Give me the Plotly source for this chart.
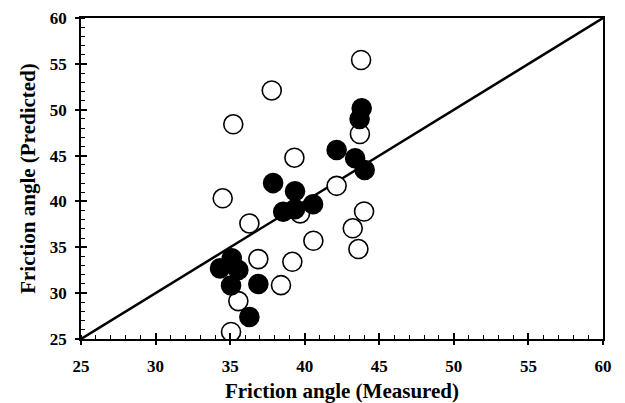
import plotly.graph_objects as go

# Friction angle: measured vs predicted (degrees)
open_measured = [43.78, 37.79, 35.21, 43.70, 39.31, 42.14, 34.50, 36.29, 39.69,
                 43.98, 43.22, 43.60, 40.58, 36.89, 39.17, 38.41, 35.55, 35.06]
open_predicted = [55.42, 52.10, 48.41, 47.35, 44.77, 41.70, 40.34, 37.60, 38.70,
                  38.90, 37.07, 34.81, 35.71, 33.71, 33.42, 30.87, 29.13, 25.77]

filled_measured = [43.82, 43.68, 42.14, 43.38, 44.02, 37.88, 39.35, 40.56,
                   39.35, 38.56, 35.11, 34.32, 35.55, 35.06, 36.89, 36.29]
filled_predicted = [50.15, 48.99, 45.61, 44.70, 43.42, 42.00, 41.10, 39.70,
                    39.16, 38.88, 33.80, 32.70, 32.52, 30.84, 31.00, 27.40]

line_x = [25, 60]
line_y = [25, 60]

axis_range = [25, 60]
tick_vals = [25, 30, 35, 40, 45, 50, 55, 60]
tick_text = ["25", "30", "35", "40", "45", "50", "55", "60"]

FONT = "Liberation Serif"

fig = go.Figure()

# 1:1 reference line
fig.add_trace(go.Scatter(
    x=line_x, y=line_y, mode="lines",
    line=dict(color="black", width=2.5), hoverinfo="skip", showlegend=False,
))

fig.add_trace(go.Scatter(
    x=open_measured, y=open_predicted, mode="markers",
    marker=dict(size=19, color="white", line=dict(color="black", width=1.6)),
    showlegend=False,
))

fig.add_trace(go.Scatter(
    x=filled_measured, y=filled_predicted, mode="markers",
    marker=dict(size=19, color="black", line=dict(color="black", width=1.6)),
    showlegend=False,
))

# empty trace carrying the overlay axes that draw the inward half of major ticks
fig.add_trace(go.Scatter(x=[None], y=[None], xaxis="x2", yaxis="y2",
                         showlegend=False, hoverinfo="skip"))

axis_common = dict(
    range=axis_range, tickvals=tick_vals, ticktext=tick_text,
    showgrid=False, zeroline=False, automargin=False,
    showline=True, linecolor="black", linewidth=1.5, mirror=True,
    ticks="outside", ticklen=4, tickwidth=1.5, tickcolor="black",
    minor=dict(dtick=1, ticks="inside", ticklen=4, tickwidth=1.2, tickcolor="black"),
    tickfont=dict(family=FONT, size=17, color="black", weight="bold"),
)

overlay_common = dict(
    range=axis_range, tickvals=tick_vals, showgrid=False, zeroline=False,
    showline=False, showticklabels=False, ticks="inside", ticklen=6,
    tickwidth=1.5, tickcolor="black", automargin=False,
)

title_font = dict(family=FONT, size=21, color="black", weight="bold")

fig.update_layout(
    width=625, height=403,
    margin=dict(l=81, r=22, t=18, b=64),
    paper_bgcolor="white", plot_bgcolor="white",
    xaxis=dict(**axis_common, ticklabelstandoff=7,
               title=dict(text="Friction angle (Measured)", font=title_font, standoff=9)),
    yaxis=dict(**axis_common, ticklabelstandoff=5,
               title=dict(text="Friction angle (Predicted)", font=title_font, standoff=8)),
    xaxis2=dict(**overlay_common, overlaying="x", side="bottom"),
    yaxis2=dict(**overlay_common, overlaying="y", side="left"),
)

fig.write_html("out.html")
